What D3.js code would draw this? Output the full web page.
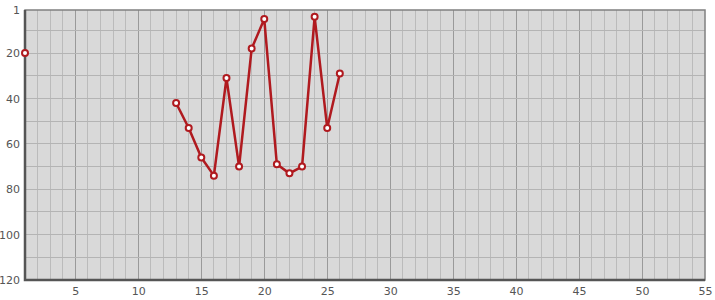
<!DOCTYPE html>
<html>
<head>
<meta charset="utf-8">
<script src="https://cdn.jsdelivr.net/npm/d3@7"></script>
<style>
  body { margin: 0; background: #fff; }
  svg text { font-family: "DejaVu Sans", sans-serif; font-size: 11px; fill: #555; }
</style>
</head>
<body>
<script>
// data: rank per position, null = no value
const xs = [1, 2, 3, 4, 5, 6, 7, 8, 9, 10, 11, 12, 13, 14, 15, 16, 17, 18, 19, 20, 21, 22, 23, 24, 25, 26];
const ranks = [20, null, null, null, null, null, null, null, null, null, null, null,
  42, 53, 66, 74, 31, 70, 18, 5, 69, 73, 70, 4, 53, 29];
const xTicks = [5, 10, 15, 20, 25, 30, 35, 40, 45, 50, 55];
const yTicks = [1, 20, 40, 60, 80, 100, 120];

const w = 715, h = 300;
const m = {left: 25, right: 10, top: 10, bottom: 20};

const svg = d3.select("body").append("svg")
  .attr("width", w).attr("height", h);

const x = d3.scaleLinear().domain([1, 55]).range([m.left, w - m.right]);
const y = d3.scaleLinear().domain([1, 120]).range([m.top, h - m.bottom]);

// plot bg
svg.append("rect")
  .attr("x", x(1)).attr("y", y(1))
  .attr("width", x(55) - x(1)).attr("height", y(120) - y(1))
  .attr("fill", "#d9d9d9");

// grid
const grid = svg.append("g");
grid.selectAll("line.vx").data(d3.range(2, 55))
  .join("line")
  .attr("x1", d => x(d)).attr("x2", d => x(d))
  .attr("y1", y(1)).attr("y2", y(120))
  .attr("stroke", d => d % 5 === 0 ? "#9a9a9a" : "#bbbbbb")
  .attr("stroke-width", 1)
  .attr("shape-rendering", "crispEdges");
grid.selectAll("line.hy").data(d3.range(10, 120, 10))
  .join("line")
  .attr("x1", x(1)).attr("x2", x(55))
  .attr("y1", d => y(d)).attr("y2", d => y(d))
  .attr("stroke", "#b4b4b4")
  .attr("stroke-width", 1)
  .attr("shape-rendering", "crispEdges");

// frame
svg.append("rect")
  .attr("x", x(1)).attr("y", y(1))
  .attr("width", x(55) - x(1)).attr("height", y(120) - y(1))
  .attr("fill", "none").attr("stroke", "#808080").attr("stroke-width", 1.5);
svg.append("path")
  .attr("d", `M${x(1)},${y(1)}V${y(120)}H${x(55)}`)
  .attr("fill", "none").attr("stroke", "#555").attr("stroke-width", 2.5);

// axes (labels only)
const xAxis = d3.axisBottom(x).tickValues(xTicks).tickSize(0).tickPadding(7);
svg.append("g")
  .attr("transform", "translate(0," + y(120) + ")")
  .call(xAxis)
  .call(g => g.select(".domain").remove());
const yAxis = d3.axisLeft(y).tickValues(yTicks).tickSize(0).tickPadding(5);
svg.append("g")
  .attr("transform", "translate(" + x(1) + ",0)")
  .call(yAxis)
  .call(g => g.select(".domain").remove());
svg.selectAll(".tick text").attr("fill", "#555")
  .style("font-family", "DejaVu Sans, sans-serif").style("font-size", "11px");

// line
const pts = xs.map((d, i) => [d, ranks[i]]);
const line = d3.line()
  .defined(d => d[1] != null)
  .x(d => x(d[0]))
  .y(d => y(d[1]));
svg.append("path")
  .datum(pts)
  .attr("fill", "none")
  .attr("stroke", "#b01a1f")
  .attr("stroke-width", 2.5)
  .attr("stroke-linejoin", "round")
  .attr("d", line);

svg.selectAll("circle.pt").data(pts.filter(d => d[1] != null))
  .join("circle")
  .attr("cx", d => x(d[0]))
  .attr("cy", d => y(d[1]))
  .attr("r", 3)
  .attr("fill", "#fff")
  .attr("stroke", "#b01a1f")
  .attr("stroke-width", 2);
</script>
</body>
</html>
